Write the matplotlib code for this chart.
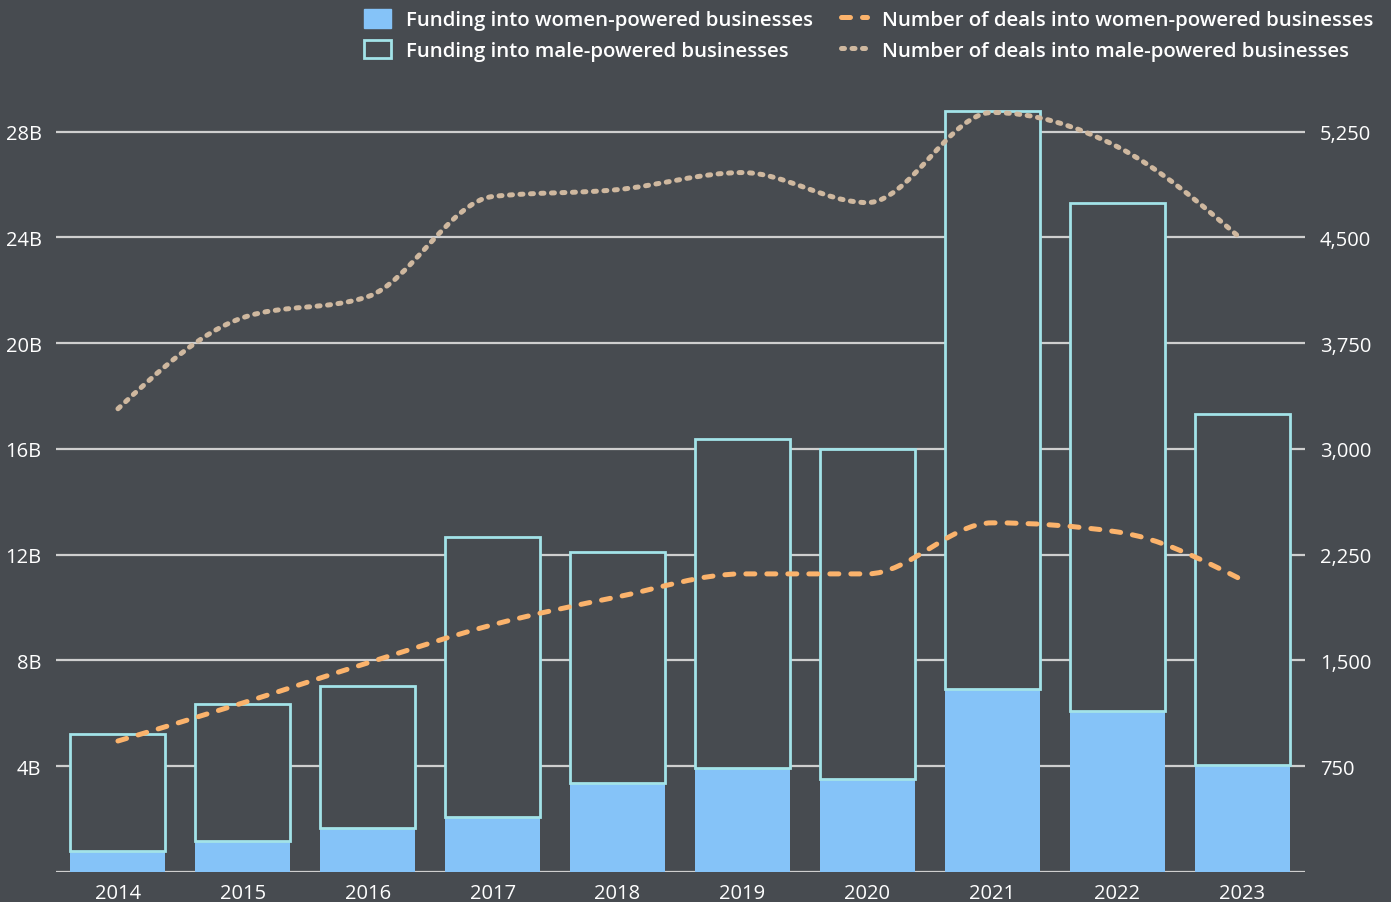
import numpy as np
import matplotlib.pyplot as plt
from matplotlib.path import Path
from matplotlib.patches import PathPatch, Patch
from matplotlib.lines import Line2D
from matplotlib.ticker import FuncFormatter

years = ['2014', '2015', '2016', '2017', '2018', '2019', '2020', '2021', '2022', '2023']
# funding, billions of dollars
women_funding = [0.79, 1.17, 1.67, 2.08, 3.37, 3.94, 3.52, 6.93, 6.09, 4.05]
male_funding = [4.43, 5.19, 5.37, 10.60, 8.74, 12.45, 12.49, 21.87, 19.23, 13.28]
# number of deals
women_deals = [929, 1199, 1483, 1753, 1951, 2114, 2114, 2476, 2412, 2072]
male_deals = [3285, 3931, 4080, 4790, 4839, 4960, 4747, 5386, 5144, 4485]

bg = '#474b50'
c_women = '#85c3f8'
c_male = '#a3e3e8'
c_wdeals = '#fbb36c'
c_mdeals = '#cfb89f'
c_grid = '#cfcfcf'
fam = ['Open Sans', 'DejaVu Sans']


def monotone_path(x, y):
    # monotone cubic (same tangents as d3.curveMonotoneX) written as bezier segments
    x = np.asarray(x, float)
    y = np.asarray(y, float)
    n = len(x)
    h = np.diff(x)
    s = np.diff(y) / h
    m = np.zeros(n)
    for i in range(1, n - 1):
        p = (s[i - 1] * h[i] + s[i] * h[i - 1]) / (h[i - 1] + h[i])
        m[i] = (np.sign(s[i - 1]) + np.sign(s[i])) * min(abs(s[i - 1]), abs(s[i]), 0.5 * abs(p))
    m[0] = (3 * s[0] - m[1]) / 2
    m[-1] = (3 * s[-1] - m[-2]) / 2
    verts = [(x[0], y[0])]
    codes = [Path.MOVETO]
    for i in range(n - 1):
        d = h[i] / 3
        verts += [(x[i] + d, y[i] + m[i] * d), (x[i + 1] - d, y[i + 1] - m[i + 1] * d), (x[i + 1], y[i + 1])]
        codes += [Path.CURVE4] * 3
    return Path(verts, codes)


fig = plt.figure(figsize=(13.91, 9.03), dpi=100, facecolor=bg)
ax = fig.add_axes([55.5 / 1391, 30 / 903, 1249 / 1391, 780 / 903])
ax.set_facecolor(bg)
xs = np.arange(len(years))

ax.bar(xs, women_funding, width=0.76, color=c_women, zorder=2)
ax.bar(xs, male_funding, bottom=women_funding, width=0.76, facecolor=bg,
       edgecolor=c_male, linewidth=2.0, zorder=3)

ax.set_xlim(-0.5, len(years) - 0.5)
ymax = 29.5
ax.set_ylim(0, ymax)
ax.set_yticks(np.arange(4, 29, 4))
ax.yaxis.set_major_formatter(FuncFormatter(lambda v, p: '%dB' % v))
ax.set_xticks(xs)
ax.set_xticklabels(years)
ax.grid(axis='y', color=c_grid, linewidth=1.6, zorder=0)
ax.set_axisbelow(True)
ax.axhline(0, color=c_grid, linewidth=1.6, zorder=1)
for sp in ax.spines.values():
    sp.set_visible(False)
ax.tick_params(length=0, colors='white', labelsize=14.5)
ax.tick_params(axis='y', pad=10)
ax.tick_params(axis='x', pad=8)

ax2 = ax.twinx()
ax2.set_ylim(0, ymax * 5250 / 28)
ax2.set_yticks(np.arange(750, 5300, 750))
ax2.yaxis.set_major_formatter(FuncFormatter(lambda v, p: '{:,.0f}'.format(v)))
for sp in ax2.spines.values():
    sp.set_visible(False)
ax2.tick_params(length=0, colors='white', labelsize=14.5, pad=11)

wpatch = PathPatch(monotone_path(xs, women_deals), fill=False, edgecolor=c_wdeals,
                   linewidth=3.6, linestyle=(0, (1.8, 2.4)), capstyle='round', zorder=5)
mpatch = PathPatch(monotone_path(xs, male_deals), fill=False, edgecolor=c_mdeals,
                   linewidth=3.6, linestyle=(0, (0.6, 1.5)), capstyle='round', zorder=5)
ax2.add_patch(wpatch)
ax2.add_patch(mpatch)

for a in (ax, ax2):
    for lab in a.get_xticklabels() + a.get_yticklabels():
        lab.set_family(fam)

handles = [
    Patch(facecolor=c_women, edgecolor=c_women),
    Patch(facecolor=bg, edgecolor=c_male, linewidth=2),
    Line2D([], [], color=c_wdeals, linewidth=3.6, linestyle=(0, (1.8, 2.4)), dash_capstyle='round'),
    Line2D([], [], color=c_mdeals, linewidth=3.6, linestyle=(0, (0.6, 1.5)), dash_capstyle='round'),
]
labels = ['Funding into women-powered businesses', 'Funding into male-powered businesses',
          'Number of deals into women-powered businesses', 'Number of deals into male-powered businesses']
leg = fig.legend(handles, labels, ncol=2, loc='upper right', bbox_to_anchor=(1392 / 1391, 1 + 8 / 903),
                 frameon=False, labelcolor='white', handlelength=1.3, handleheight=1.0,
                 handletextpad=0.75, columnspacing=1.35, labelspacing=0.45,
                 prop={'family': fam, 'size': 14.65, 'weight': 'semibold'})

fig.savefig('out.png', dpi=100, facecolor=bg)
